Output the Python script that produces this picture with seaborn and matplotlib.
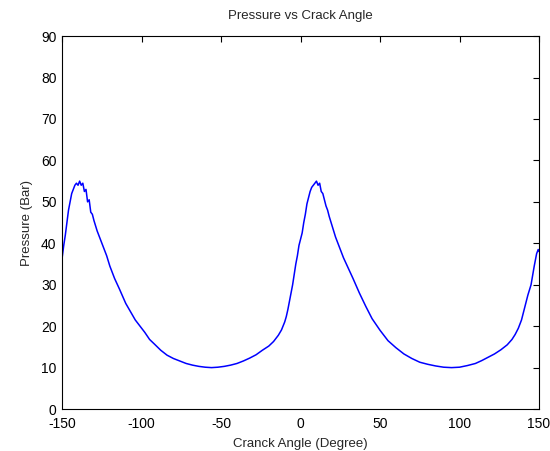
"""Pressure vs crank angle, MATLAB-like look, drawn with seaborn."""

import matplotlib

matplotlib.use("Agg")

import matplotlib.pyplot as plt
import pandas as pd
import seaborn as sns


# values
crank_angle = [
    -150, -149, -148, -147, -146, -145, -144, -143, -142, -141, -140, -139,
    -138, -137, -136, -135, -134, -133, -132, -131, -130, -128, -126, -125,
    -122, -120, -117, -114, -110, -107, -104, -101, -98, -95, -92, -88, -84,
    -80, -76, -72, -68, -64, -60, -56, -52, -48, -44, -40, -36, -32, -28,
    -24, -20, -17, -14, -12, -10, -9, -8, -7, -6, -5, -4, -3, -2, -1, 0,
    1, 2, 3, 4, 5, 6, 7, 8, 9, 10, 11, 12, 13, 14, 15, 16, 17, 18, 20, 22,
    24.5, 27, 30, 33, 37, 41, 45, 50, 55, 60, 65, 70, 75, 80, 85, 90, 95,
    100, 105, 110, 114, 118, 122, 126, 130, 133, 135, 137, 139, 141, 143,
    145, 147, 148.5, 149.5, 150,
]
pressure = [
    36.5, 39.5, 42.0, 45.0, 48.0, 50.0, 52.0, 53.0, 54.0, 54.5, 54.0, 55.0,
    54.0, 54.5, 52.5, 53.0, 50.0, 50.5, 47.5, 47.0, 45.5, 43.0, 41.0, 40.0,
    37.0, 34.5, 31.5, 29.0, 25.5, 23.5, 21.5, 20.0, 18.5, 16.8, 15.7, 14.2,
    13.0, 12.2, 11.6, 11.0, 10.6, 10.3, 10.1, 10.0, 10.1, 10.3, 10.6, 11.0,
    11.6, 12.3, 13.1, 14.2, 15.2, 16.3, 17.8, 19.1, 21.0, 22.3, 24.0, 26.0,
    28.0, 30.0, 32.5, 35.0, 37.0, 39.5, 41.0, 42.5, 45.0, 47.0, 49.5, 51.0,
    52.5, 53.5, 54.0, 54.5, 55.0, 54.0, 54.5, 52.5, 52.0, 50.5, 49.0, 48.0,
    46.5, 44.0, 41.5, 39.0, 36.5, 34.0, 31.5, 28.0, 24.8, 21.8, 19.0, 16.5,
    14.8, 13.3, 12.2, 11.3, 10.8, 10.4, 10.1, 10.0, 10.1, 10.5, 11.0, 11.7,
    12.5, 13.3, 14.3, 15.5, 16.8, 18.0, 19.5, 21.5, 24.5, 27.5, 30.0, 34.5,
    37.5, 38.5, 38.0,
]
x_ticks = [-150, -100, -50, 0, 50, 100, 150]
y_ticks = [0, 10, 20, 30, 40, 50, 60, 70, 80, 90]


def main() -> None:
    sns.set_theme(style="white")
    plt.rcParams["font.family"] = ["Liberation Sans", "DejaVu Sans"]
    plt.rcParams["axes.unicode_minus"] = False

    df = pd.DataFrame({"angle": crank_angle, "pressure": pressure})

    fig = plt.figure(figsize=(5.5, 4.51), dpi=100, facecolor="white")
    ax = fig.add_axes([0.113, 0.093, 0.867, 0.827])

    sns.lineplot(data=df, x="angle", y="pressure", ax=ax, color="#0000ff",
                 linewidth=1.1, sort=False)

    ax.set_xlim(-150, 150)
    ax.set_ylim(0, 90)
    ax.set_xticks(x_ticks)
    ax.set_yticks(y_ticks)
    ax.tick_params(direction="in", length=4, width=0.8, labelsize=10,
                   top=True, right=True, colors="black")
    ax.tick_params(axis="x", pad=6)
    ax.tick_params(axis="y", pad=4)
    for spine in ax.spines.values():
        spine.set_visible(True)
        spine.set_color("black")
        spine.set_linewidth(0.8)

    ax.set_title("Pressure vs Crack Angle", fontsize=9.5, pad=12)
    ax.set_xlabel("Cranck Angle (Degree)", fontsize=9.5, labelpad=5)
    ax.set_ylabel("Pressure (Bar)", fontsize=9.5, labelpad=6)

    fig.savefig("out.png", dpi=100, facecolor="white")
    plt.close(fig)


if __name__ == "__main__":
    main()
